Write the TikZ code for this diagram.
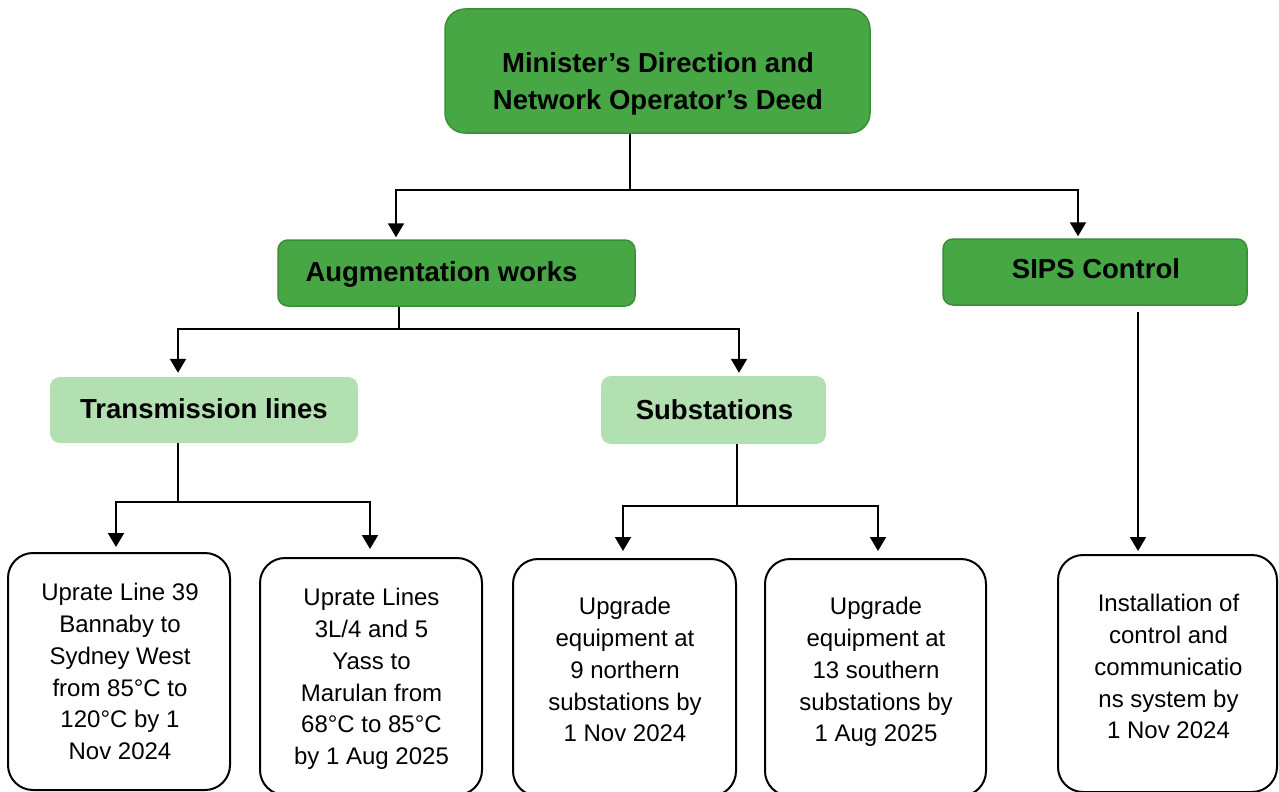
\documentclass[tikz,border=0pt]{standalone}
\usepackage{fontspec}
\setmainfont{Liberation Sans}
\usetikzlibrary{arrows.meta}
\definecolor{dkgreen}{HTML}{47A744}
\definecolor{dkborder}{HTML}{3C8C39}
\definecolor{ltgreen}{HTML}{B3E0B1}
\begin{document}
\begin{tikzpicture}[x=1pt,y=-1pt,
 greenbox/.style={draw=dkborder, line width=1.5pt, fill=dkgreen, rounded corners=10pt, inner sep=0pt},
 lightbox/.style={fill=ltgreen, rounded corners=10pt, inner sep=0pt},
 leafbox/.style={draw=black, line width=2pt, fill=white, rounded corners=25pt, inner sep=0pt, minimum height=237pt},
 head/.style={inner sep=0pt, font=\bfseries\fontsize{27.5}{37}\selectfont, align=center},
 body/.style={inner sep=0pt, font=\fontsize{24}{31.8}\selectfont, align=center},
 conn/.style={line width=2pt, draw=black},
 arr/.style={conn, -{Triangle[width=16pt,length=14pt]}},
]
\useasboundingbox (0,0) rectangle (1279,792);

% boxes
\node[greenbox, rounded corners=20pt, minimum width=425pt, minimum height=124pt] (top) at (657.5,71) {};
\node[greenbox, minimum width=357pt, minimum height=66pt] (aug) at (456.5,273) {};
\node[greenbox, minimum width=304pt, minimum height=66pt] (sips) at (1095,272) {};
\node[lightbox, minimum width=308pt, minimum height=66pt] (trans) at (204,410) {};
\node[lightbox, minimum width=225pt, minimum height=68pt] (subs) at (713.5,410) {};
\node[leafbox, minimum width=222pt] (b1) at (119,671.5) {};
\node[leafbox, minimum width=222pt] (b2) at (371,676.5) {};
\node[leafbox, minimum width=223pt] (b3) at (624.5,677.5) {};
\node[leafbox, minimum width=221pt] (b4) at (875.5,677.5) {};
\node[leafbox, minimum width=219pt] (b5) at (1167.5,673.5) {};

% texts
\node[head, anchor=north] (tTop) at (658,52) {Minister’s Direction and\\Network Operator’s Deed};
\node[head, anchor=base] (tAug) at (441.5,281) {Augmentation works};
\node[head, anchor=base] (tSips) at (1096,278) {SIPS Control};
\node[head, anchor=base] (tTrans) at (204,418) {Transmission lines};
\node[head, anchor=base] (tSubs) at (714.5,419) {Substations};

\node[body, anchor=north] (tB1) at (120,583) {Uprate Line 39\\Bannaby to\\Sydney West\\from 85°C to\\120°C by 1\\Nov 2024};
\node[body, anchor=north] (tB2) at (371.5,588) {Uprate Lines\\3L/4 and 5\\Yass to\\Marulan from\\68°C to 85°C\\by 1 Aug 2025};
\node[body, anchor=north] (tB3) at (625,597) {Upgrade\\equipment at\\9 northern\\substations by\\1 Nov 2024};
\node[body, anchor=north] (tB4) at (876,597) {Upgrade\\equipment at\\13 southern\\substations by\\1 Aug 2025};
\node[body, anchor=north] (tB5) at (1168.5,594) {Installation of\\control and\\communicatio\\ns system by\\1 Nov 2024};

% connectors
\coordinate (j0) at (630,190);
\coordinate (jL) at (396,190);
\coordinate (jR) at (1078,190);
\draw[conn] (top.south -| j0) -- (j0);
\draw[arr, shorten >=2pt] (j0) -- (jL) -- (aug.north -| jL);
\draw[arr, shorten >=2pt] (j0) -- (jR) -- (sips.north -| jR);

\coordinate (j1) at (399,329);
\coordinate (j1L) at (178,329);
\coordinate (j1R) at (739,329);
\draw[conn] (aug.south -| j1) -- (j1);
\draw[arr, shorten >=4pt] (j1) -- (j1L) -- (trans.north -| j1L);
\draw[arr, shorten >=3pt] (j1) -- (j1R) -- (subs.north -| j1R);

\coordinate (j2) at (178,502);
\coordinate (j2L) at (116,502);
\coordinate (j2R) at (370,502);
\draw[conn] (trans.south -| j2) -- (j2);
\draw[arr, shorten >=5pt] (j2) -- (j2L) -- (b1.north -| j2L);
\draw[arr, shorten >=8pt] (j2) -- (j2R) -- (b2.north -| j2R);

\coordinate (j3) at (737,506);
\coordinate (j3L) at (623,506);
\coordinate (j3R) at (878,506);
\draw[conn] (subs.south -| j3) -- (j3);
\draw[arr, shorten >=7pt] (j3) -- (j3L) -- (b3.north -| j3L);
\draw[arr, shorten >=7pt] (j3) -- (j3R) -- (b4.north -| j3R);

\coordinate (j4) at (1138,300);
\draw[arr, shorten <=6pt, shorten >=3pt] (sips.south -| j4) -- (b5.north -| j4);
\end{tikzpicture}
\end{document}
